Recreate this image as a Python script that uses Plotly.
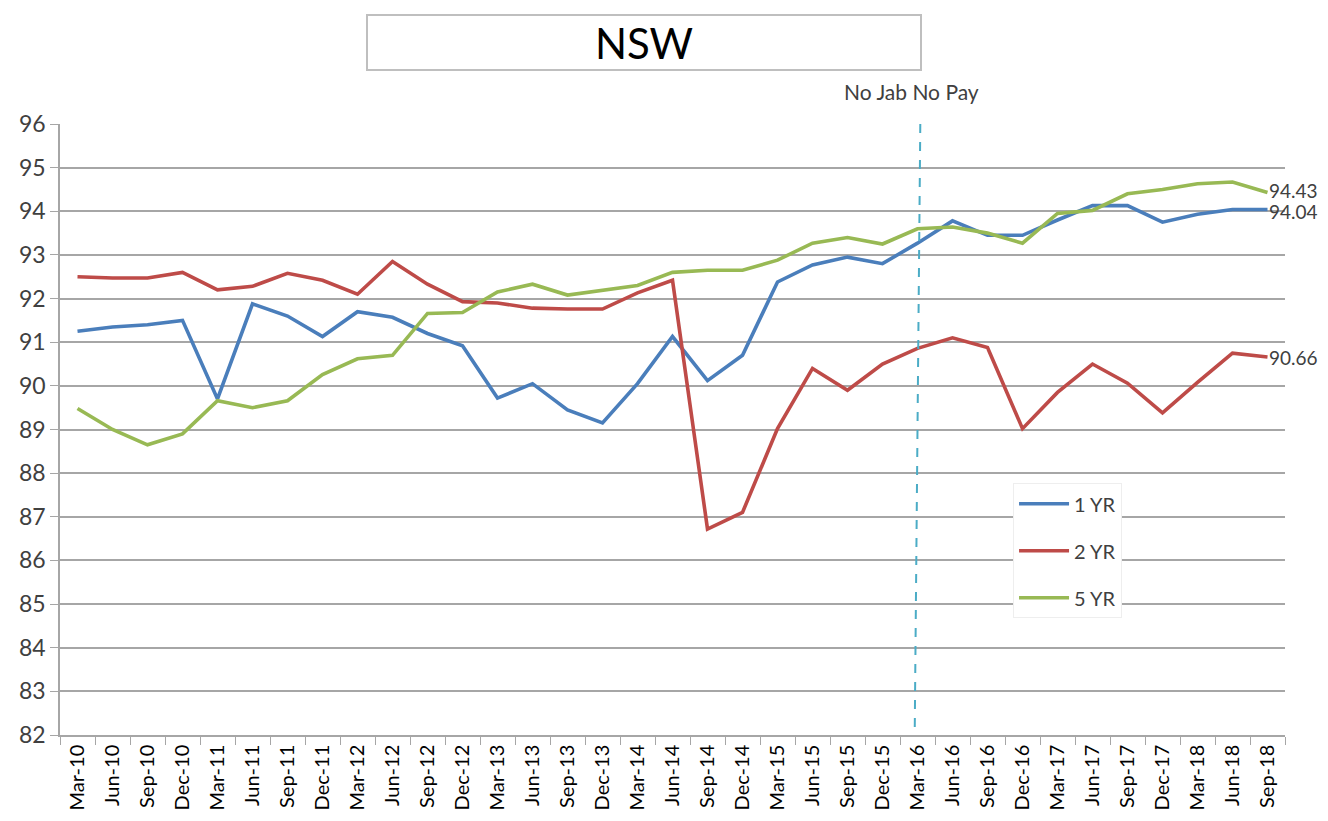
import plotly.graph_objects as go

quarters = ["Mar-10", "Jun-10", "Sep-10", "Dec-10", "Mar-11", "Jun-11", "Sep-11", "Dec-11",
            "Mar-12", "Jun-12", "Sep-12", "Dec-12", "Mar-13", "Jun-13", "Sep-13", "Dec-13",
            "Mar-14", "Jun-14", "Sep-14", "Dec-14", "Mar-15", "Jun-15", "Sep-15", "Dec-15",
            "Mar-16", "Jun-16", "Sep-16", "Dec-16", "Mar-17", "Jun-17", "Sep-17", "Dec-17",
            "Mar-18", "Jun-18", "Sep-18"]

yr1 = [91.25, 91.35, 91.4, 91.5, 89.7, 91.88, 91.6, 91.13, 91.7, 91.57, 91.2, 90.92,
       89.72, 90.05, 89.45, 89.15, 90.05, 91.13, 90.12, 90.7, 92.38, 92.77, 92.95, 92.8,
       93.27, 93.78, 93.45, 93.45, 93.8, 94.13, 94.13, 93.75, 93.93, 94.04, 94.04]

yr2 = [92.5, 92.47, 92.47, 92.6, 92.2, 92.28, 92.58, 92.42, 92.1, 92.85, 92.33, 91.93,
       91.9, 91.78, 91.76, 91.76, 92.13, 92.42, 86.72, 87.1, 89.02, 90.4, 89.9, 90.5,
       90.86, 91.1, 90.88, 89.02, 89.85, 90.5, 90.06, 89.38, 90.08, 90.75, 90.66]

yr5 = [89.48, 89.0, 88.65, 88.9, 89.66, 89.5, 89.66, 90.26, 90.62, 90.7, 91.66, 91.68,
       92.15, 92.33, 92.08, 92.18, 92.3, 92.6, 92.65, 92.65, 92.88, 93.27, 93.4, 93.25,
       93.6, 93.64, 93.5, 93.27, 93.95, 94.02, 94.4, 94.5, 94.63, 94.67, 94.43]

series = [("1 YR", yr1, "#4A7EBB"), ("2 YR", yr2, "#BE4B48"), ("5 YR", yr5, "#98B954")]

FONT = "Lato"
TXT = "#404040"
GRID = "#A6A6A6"

fig = go.Figure()
for name, vals, col in series:
    fig.add_trace(go.Scatter(x=quarters, y=vals, name=name, mode="lines",
                             legendgroup=name,
                             line=dict(color=col, width=3.6)))

# labels at the end of each line (1 YR / 5 YR nudged apart a touch)
nudge = {"1 YR": -2, "2 YR": 0, "5 YR": 2}
annots = []
for name, vals, col in series:
    annots.append(dict(x=quarters[-1], y=vals[-1], text=f"{vals[-1]:.2f}", showarrow=False,
                       xanchor="left", yanchor="middle", xshift=-1, yshift=nudge[name],
                       font=dict(family=FONT, size=19, color=TXT)))

annots.append(dict(x=quarters[24], y=1.03, yref="paper", text="No Jab No Pay", showarrow=False,
                   yanchor="bottom", xshift=-6, font=dict(family=FONT, size=21, color=TXT)))
annots.append(dict(x=0.477, y=1.134, xref="paper", yref="paper", text="NSW", showarrow=False,
                   xanchor="center", yanchor="middle", width=548, height=49,
                   bordercolor="#BFBFBF", borderwidth=2, borderpad=2, bgcolor="white",
                   font=dict(family=FONT, size=42, color="black")))

fig.add_shape(type="line", xref="x", yref="y", x0=24.08, x1=23.92, y0=96, y1=82,
              line=dict(color="#4BACC6", width=2, dash="dash"))

# page body has an 8px margin, so the figure is sized 16px smaller
fig.update_layout(
    width=1312, height=805,
    margin=dict(l=52, r=35, t=116, b=78),
    paper_bgcolor="white", plot_bgcolor="white",
    annotations=annots,
    showlegend=True,
    legend=dict(x=0.778, y=0.412, xanchor="left", yanchor="top",
                bgcolor="white", bordercolor="#EEEEEE", borderwidth=1,
                tracegroupgap=18, itemwidth=50,
                font=dict(family=FONT, size=20, color=TXT)),
    xaxis=dict(type="category", range=[-0.5, 34.5], showgrid=False,
               showline=True, linecolor=GRID, linewidth=1.5,
               ticks="outside", tickson="boundaries", ticklen=8, tickcolor=GRID,
               tickangle=-90, automargin=False,
               tickfont=dict(family=FONT, size=20, color="black")),
    yaxis=dict(range=[82, 96], dtick=1, showgrid=True, gridcolor=GRID, gridwidth=1.5,
               showline=True, linecolor=GRID, linewidth=1.5, automargin=False,
               ticks="outside", ticklen=8, tickcolor=GRID, zeroline=False,
               tickfont=dict(family=FONT, size=23, color=TXT)),
)

fig.write_html("out.html")
